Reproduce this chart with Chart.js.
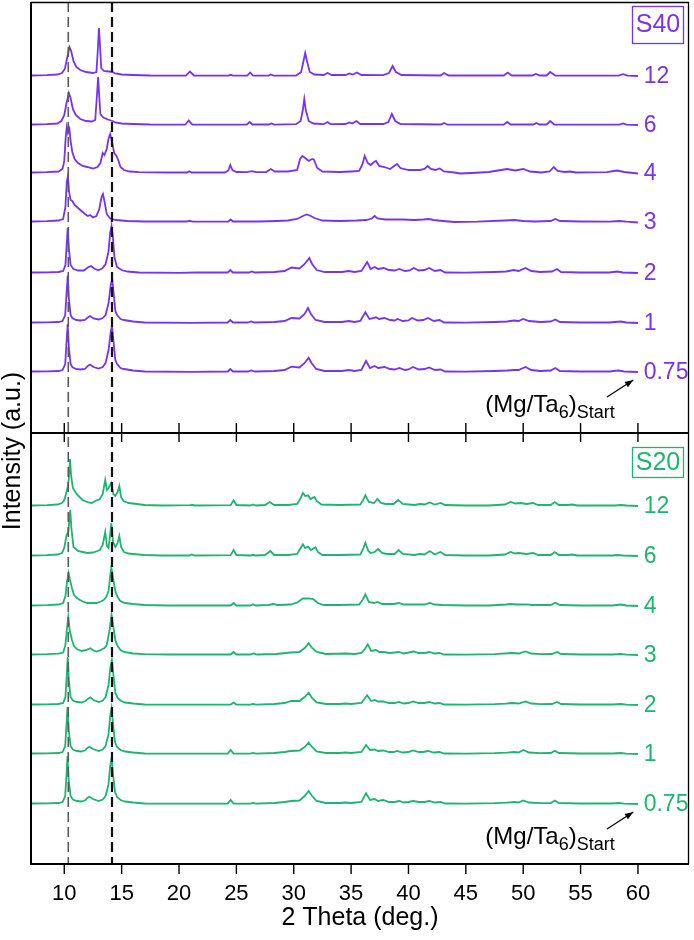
<!DOCTYPE html>
<html>
<head>
<meta charset="utf-8">
<title>XRD S40 / S20</title>
<script src="https://cdn.jsdelivr.net/npm/chart.js@4/dist/chart.umd.min.js"></script>
<style>
  body { margin: 0; background: #fff; }
  #wrap { width: 694px; height: 940px; position: relative; }
</style>
</head>
<body>
<div id="wrap"><canvas id="xrd"></canvas></div>
<script>
// sample labels, top to bottom in each panel
const samples = ['12', '6', '4', '3', '2', '1', '0.75'];
const xTicks = [10, 15, 20, 25, 30, 35, 40, 45, 50, 55, 60];
const refLines = [10.35, 14.16];

// vertical stacking offsets (a.u.)
const s40Offsets = [788, 739, 691, 642, 591, 541, 492];
const s20Offsets = [358, 308, 258, 209, 159, 110, 60];
const panelSplit = 431;

// S40 patterns: 2theta, intensity above own baseline
const s40_12 = [7.0,0.5, 8.5,0.8, 9.4,1.5, 9.8,3, 10.05,7, 10.25,18, 10.45,29, 10.6,25, 10.8,15, 11.05,9, 11.4,6, 11.9,4, 12.5,3, 12.8,4, 12.92,25, 13.02,48, 13.12,30, 13.22,8, 13.45,5, 13.9,4.5, 14.2,4, 14.45,2.5, 15.0,1.5, 16.0,1, 17.5,0.5, 20.6,0.3, 20.95,4.5, 21.3,0.5, 24.3,0.3, 24.5,1.2, 24.7,0.3, 25.95,0.5, 26.2,3.5, 26.45,0.5, 27.8,0.3, 28.0,1.5, 28.25,0.3, 30.2,0.5, 30.65,4, 30.85,15, 31.0,23, 31.15,15, 31.4,4, 31.8,1.5, 32.6,1, 32.95,3, 33.3,1, 34.5,1, 34.85,2.5, 35.15,1.5, 35.5,3.5, 35.9,1, 37.8,0.8, 38.3,3, 38.62,10, 38.9,4, 39.4,1, 42.8,0.5, 43.1,3, 43.5,0.5, 48.3,0.5, 48.65,3.5, 49.0,0.5, 50.8,0.5, 51.1,2, 51.45,0.5, 52.05,0.5, 52.35,4, 52.8,0.5, 58.3,0.3, 58.7,1.8, 59.1,0.3, 60.0,0];
const s40_6 = [7.0,0.5, 8.5,0.8, 9.4,1.5, 9.75,4, 10.0,10, 10.2,22, 10.4,32, 10.55,27, 10.75,16, 11.0,10, 11.4,6, 11.9,4, 12.4,3.5, 12.7,5, 12.85,30, 12.95,48, 13.05,28, 13.15,11, 13.4,7.5, 13.8,5.5, 14.2,4, 14.45,2.5, 15.0,1.5, 16.0,1, 17.5,0.5, 20.55,0.3, 20.85,4.5, 21.15,0.5, 25.9,0.3, 26.15,3, 26.4,0.5, 27.85,0.5, 28.05,1.5, 28.3,0.3, 30.2,0.8, 30.6,4, 30.78,14, 30.92,26, 31.05,15, 31.3,4, 31.7,1.5, 32.6,0.8, 32.95,3, 33.2,0.8, 34.5,1, 34.85,2.5, 35.1,1.5, 35.45,4, 35.8,1, 37.8,1, 38.25,3, 38.55,11, 38.85,4, 39.3,1, 42.85,0.5, 43.1,2, 43.4,0.3, 48.3,0.3, 48.6,3, 48.9,0.5, 50.9,0.5, 51.15,2, 51.4,0.5, 52.05,0.5, 52.35,4, 52.7,0.5, 58.4,0.3, 58.7,1.5, 59.0,0.3, 60.0,0];
const s40_4 = [7.0,0.5, 8.5,0.8, 9.5,1.5, 9.85,4, 10.0,12, 10.12,35, 10.22,46, 10.32,40, 10.45,44, 10.55,32, 10.7,21, 10.9,14, 11.2,10, 11.6,7, 12.0,6, 12.5,4.5, 12.9,6, 13.15,10, 13.35,20, 13.5,18, 13.7,24, 13.85,34, 14.0,39, 14.15,32, 14.35,20, 14.55,17, 14.7,13, 14.9,6, 15.2,3, 15.7,1.5, 16.5,0.8, 19.0,0.5, 20.7,0.5, 20.9,1.8, 21.1,0.5, 24.0,0.5, 24.3,2.5, 24.47,8, 24.65,3, 25.0,1, 25.9,0.8, 26.35,1.8, 26.7,0.8, 27.6,1, 28.0,4, 28.35,1.5, 29.5,1.5, 30.3,3, 30.55,14, 30.75,17, 31.0,15, 31.3,12, 31.6,14, 31.75,13.5, 32.05,5, 32.5,1.5, 34.0,1, 35.0,1.5, 35.7,2, 36.0,9, 36.18,17, 36.45,10, 36.7,8, 37.0,11, 37.17,12, 37.45,7, 37.9,6, 38.4,4, 39.0,9, 39.3,5, 40.0,3, 41.0,3, 41.4,4, 41.67,7, 41.95,4, 42.35,3, 42.72,4.5, 43.1,1.5, 44.0,0.5, 44.5,-0.5, 45.5,0, 47.0,1, 47.8,2.5, 48.6,4, 49.3,2.5, 50.0,4, 50.6,1.5, 51.1,1, 51.6,0.5, 52.3,1.5, 52.66,6, 53.0,2, 53.6,1, 54.1,1.5, 54.6,0.5, 57.3,0.8, 57.9,2, 58.2,2.5, 58.8,1, 60.0,-0.5];
const s40_3 = [7.0,0.5, 8.5,0.8, 9.5,1.5, 9.9,3, 10.1,15, 10.22,40, 10.32,46, 10.42,30, 10.55,22, 10.7,21, 10.9,17, 11.2,14, 11.5,11, 11.8,8, 12.05,6, 12.25,7, 12.5,4.5, 12.8,6, 13.05,13, 13.25,25, 13.37,28, 13.5,21, 13.7,8, 14.0,3.5, 14.5,2, 15.5,1, 17.0,0.5, 20.7,0.5, 20.9,1.2, 21.2,0.3, 24.3,0.5, 24.5,2.5, 24.7,0.5, 27.0,0.5, 28.5,1, 29.5,1.5, 30.3,3, 30.8,6, 31.1,7.5, 31.4,6.5, 31.8,4, 32.5,1.5, 34.0,1, 35.5,1.5, 36.3,2, 36.8,3.5, 37.05,6, 37.3,3.5, 38.0,2.5, 39.5,2.5, 40.5,2, 41.3,2.5, 41.76,3, 42.2,2, 43.0,1, 44.0,0, 46.0,0.3, 48.4,1.5, 49.2,2, 50.0,1, 51.0,0.5, 52.4,1, 52.8,3, 53.2,1, 55.0,0.5, 57.5,0.3, 58.4,1, 59.0,0.3, 60.0,-0.5];
const s40_2 = [7.0,0.5, 8.5,0.6, 9.5,1, 9.9,2, 10.1,8, 10.22,30, 10.3,45, 10.4,25, 10.55,8, 10.8,4, 11.2,2.5, 11.7,2.5, 12.05,5.5, 12.33,7, 12.6,4.5, 12.95,2.7, 13.3,4.5, 13.6,9, 13.85,21, 14.0,40, 14.12,47, 14.22,38, 14.38,15, 14.6,6, 15.0,3, 15.5,1.5, 16.5,0.5, 20.0,0.2, 21.5,0.5, 24.25,0.5, 24.47,3, 24.7,0.5, 26.1,0.5, 26.35,1.5, 26.6,0.5, 28.3,1, 29.2,2, 29.8,5.5, 30.5,4.5, 30.95,9, 31.36,15, 31.6,9, 32.0,3, 32.7,1, 34.2,1, 34.8,2, 35.3,1, 35.9,2, 36.4,11, 36.7,4, 37.05,6, 37.35,4, 37.84,5, 38.3,3, 38.8,2.5, 39.2,4, 39.7,2, 40.1,2.5, 40.45,5, 40.9,2.5, 41.4,3, 41.8,5, 42.3,2, 42.78,3, 43.2,0.5, 45.0,0.3, 47.5,1, 48.5,1.5, 49.17,3, 49.6,2, 50.2,5, 50.7,2, 51.5,1, 52.5,1.5, 52.95,4, 53.3,1, 55.0,0.5, 57.5,0.5, 58.2,1.5, 58.7,0.5, 60.0,0];
const s40_1 = [7.0,0.5, 8.5,0.6, 9.5,1, 9.85,2, 10.08,8, 10.2,30, 10.3,47.5, 10.4,25, 10.55,8, 10.7,5, 11.0,3, 11.4,2.5, 11.8,3, 12.05,5.5, 12.25,7, 12.55,4.5, 13.0,3.5, 13.35,5, 13.6,8, 13.86,20, 14.05,38, 14.18,44, 14.3,30, 14.45,12, 14.6,8, 14.9,4, 15.2,3, 16.0,1.5, 17.0,0.5, 21.0,0.2, 24.25,0.5, 24.47,3, 24.7,0.5, 26.0,0.5, 26.3,1.5, 26.6,0.5, 28.3,1, 29.2,2, 29.8,5, 30.5,4.5, 30.95,9, 31.24,15, 31.5,9, 31.9,3, 32.7,1, 34.2,1, 34.8,2, 35.3,1, 35.8,2, 36.24,10.7, 36.6,4, 37.17,5.7, 37.45,4, 37.9,5, 38.4,3, 38.8,2.5, 39.05,4, 39.5,2, 40.0,2.5, 40.3,5, 40.8,2.5, 41.3,3, 41.7,5, 42.2,2, 42.7,3, 43.1,0.5, 45.0,0.3, 47.5,1, 48.6,1.5, 49.2,2.5, 49.6,2, 50.0,4, 50.5,2, 51.5,1, 52.4,1.5, 52.8,3.5, 53.2,1, 55.0,0.5, 57.5,0.5, 58.5,1.5, 59.0,0.5, 60.0,0];
const s40_075 = [7.0,0.5, 8.5,0.6, 9.5,1, 9.85,2, 10.08,8, 10.2,30, 10.3,48, 10.4,25, 10.55,8, 10.7,5, 11.0,3, 11.4,2.5, 11.8,3, 12.05,6, 12.25,7.5, 12.55,5, 13.0,3.5, 13.35,5, 13.6,9, 13.86,22, 14.05,40, 14.16,46, 14.28,32, 14.45,12, 14.6,8, 14.9,4, 15.2,3, 16.0,1.5, 17.0,0.5, 21.0,0.2, 24.25,0.5, 24.47,3, 24.7,0.5, 26.0,0.5, 26.3,1.5, 26.6,0.5, 28.3,1, 29.2,2, 29.8,5.3, 30.5,4.5, 30.95,9, 31.3,14.3, 31.55,9, 31.95,3, 32.7,1, 34.2,1, 34.8,2, 35.3,1, 35.9,2, 36.3,11, 36.65,4, 37.05,6, 37.35,4, 37.9,5, 38.4,3, 38.8,2.5, 39.2,4, 39.7,2, 40.0,2.5, 40.4,5, 40.9,2.5, 41.4,3, 41.8,4.5, 42.3,2, 42.8,2.5, 43.2,0.5, 45.0,0.3, 47.5,1, 48.6,1.5, 49.2,2, 49.6,2, 50.2,5, 50.7,2, 51.5,1, 52.4,1.5, 52.8,4, 53.2,1, 55.0,0.5, 57.5,0.5, 58.3,1.5, 58.8,0.5, 60.0,0];

// S20 patterns
const s20_12 = [7.0,0.5, 8.5,0.8, 9.4,1.5, 9.8,3, 10.0,6, 10.15,12, 10.3,19, 10.4,28, 10.5,47, 10.6,30, 10.75,18, 11.1,11.5, 11.6,6, 12.1,3.5, 12.4,3, 12.7,5, 13.1,7, 13.35,12, 13.57,26, 13.72,16, 13.86,18, 14.08,23, 14.28,12, 14.45,10, 14.65,14, 14.8,20, 14.95,9, 15.17,5, 15.6,3, 16.0,2.5, 17.0,1, 18.5,0.5, 21.0,0.8, 21.1,1.2, 21.4,0.5, 24.5,0.8, 24.76,5.7, 25.0,1, 26.2,0.5, 26.45,1.5, 26.7,0.5, 27.5,1, 27.9,4, 28.3,1, 29.5,1, 30.3,2, 30.6,8, 30.8,13, 31.0,10, 31.24,10.7, 31.45,7, 31.8,9, 32.0,5, 32.4,1.5, 34.0,1, 35.8,1.5, 36.05,6, 36.24,10.7, 36.55,4, 37.0,3, 37.3,7, 37.6,3, 38.0,2, 38.7,2, 39.1,6, 39.5,2, 40.5,1, 41.0,2, 41.4,1.5, 41.85,3.5, 42.3,1.5, 42.8,3, 43.2,1, 45.0,0.5, 47.0,0.5, 48.4,1.5, 48.9,4, 49.3,2.5, 49.76,3, 50.3,2, 50.86,3, 51.3,1, 52.4,1, 52.75,4, 53.1,1, 53.9,1, 54.26,1.5, 54.7,0.5, 58.0,0.5, 58.5,1, 59.0,0.5, 60.0,0];
const s20_6 = [7.0,0.5, 8.5,0.8, 9.4,1.5, 9.8,3, 10.0,8, 10.2,21, 10.35,24, 10.44,35, 10.52,46, 10.62,28, 10.8,9, 11.2,5, 11.6,4, 12.0,3, 12.5,3.5, 12.9,5, 13.1,6, 13.35,11, 13.57,24, 13.72,10, 13.86,8, 14.0,22, 14.1,33, 14.25,14, 14.45,9, 14.65,13, 14.8,20, 14.95,9, 15.2,4, 15.6,2.5, 16.0,2, 17.0,1, 18.5,0.5, 20.9,0.5, 21.1,1.5, 21.4,0.5, 24.5,0.8, 24.76,6, 25.0,1, 26.2,0.5, 26.45,1, 26.7,0.5, 27.5,1, 27.96,5, 28.3,1, 29.5,1, 30.3,2, 30.6,8, 30.8,11.7, 31.0,8, 31.24,9.3, 31.5,6, 31.9,8.7, 32.1,4, 32.5,1, 34.0,1, 35.8,1.5, 36.05,7, 36.24,13.3, 36.5,5, 36.7,3, 37.05,4, 37.35,7, 37.7,3, 38.1,2, 38.8,2, 39.15,6, 39.5,2, 40.5,1, 41.0,2, 41.4,1.5, 41.85,5, 42.3,1.5, 42.78,4, 43.2,1, 45.0,0.5, 47.0,0.5, 48.4,1.5, 48.9,4, 49.3,2.5, 49.6,3, 50.3,2, 50.86,3, 51.3,1, 52.4,1, 52.75,4, 53.1,1, 53.9,1, 54.26,1.5, 54.7,0.5, 57.8,0.5, 58.2,1, 58.7,0.5, 60.0,0];
const s20_4 = [7.0,0.5, 8.5,0.8, 9.5,1.5, 9.9,3, 10.1,10, 10.25,25, 10.38,33, 10.5,26, 10.67,17.7, 10.85,11, 11.1,8, 11.5,5, 12.0,3, 12.8,3, 13.2,4.5, 13.43,6, 13.65,9, 13.86,15, 14.0,30, 14.1,38.7, 14.22,30, 14.45,15, 14.65,9, 14.88,5, 15.3,3, 16.0,2, 17.0,1, 19.0,0.5, 24.5,0.5, 24.76,3, 25.0,0.5, 26.2,0.5, 26.45,1.5, 26.7,0.5, 27.8,1, 28.2,2, 28.6,1, 29.7,1.5, 30.3,3.5, 30.8,7.5, 31.3,7.7, 31.7,7, 32.1,3, 32.6,1, 34.0,1, 35.7,1.5, 36.0,6, 36.24,11.7, 36.55,4, 37.0,3, 37.3,4, 37.7,2, 38.7,2, 39.15,3, 39.6,1.5, 40.5,1.5, 41.4,1.5, 41.85,3, 42.3,1.5, 43.0,1, 45.0,0.5, 47.0,0.5, 48.5,1.5, 48.9,2, 49.4,1.5, 50.3,1.7, 50.8,1, 52.4,1, 52.8,3.3, 53.2,1, 55.0,0.5, 57.8,0.5, 58.5,1.5, 59.0,0.5, 60.0,0];
const s20_3 = [7.0,0.5, 8.5,0.8, 9.5,1.3, 9.9,2.5, 10.1,10, 10.25,28, 10.35,38, 10.47,25, 10.67,15, 10.85,9, 11.1,6, 11.5,4, 11.95,5, 12.27,6.7, 12.55,4.5, 12.8,3.5, 13.2,5, 13.5,7, 13.7,10, 13.95,25, 14.12,40, 14.28,28, 14.45,15, 14.6,10, 14.9,5, 15.2,3, 16.0,1.5, 17.0,0.8, 19.0,0.5, 24.5,0.5, 24.76,3, 25.0,0.5, 26.2,0.5, 26.5,1.5, 26.8,0.5, 28.5,1, 29.7,2.5, 30.5,3, 30.95,7, 31.3,11.7, 31.6,7, 32.0,3, 32.8,1, 34.5,1.5, 35.3,1, 35.9,2, 36.2,6, 36.45,10.7, 36.75,4, 37.17,5, 37.45,3, 37.8,3, 38.4,2, 39.15,3, 39.6,1.5, 40.45,3.5, 40.9,2, 41.4,2, 41.8,3, 42.3,1.5, 42.7,2, 43.1,0.5, 45.0,0.3, 47.5,0.8, 49.0,2, 49.6,1.5, 50.2,3.5, 50.7,1.5, 51.5,0.8, 52.5,1, 52.95,3, 53.3,1, 55.0,0.5, 57.8,0.5, 58.5,1, 59.0,0.3, 60.0,0];
const s20_2 = [7.0,0.5, 8.5,0.6, 9.5,1, 9.9,2, 10.1,8, 10.22,30, 10.3,48, 10.4,25, 10.55,8, 10.75,4.5, 11.1,3, 11.5,2.5, 11.85,4, 12.05,6, 12.27,7.7, 12.55,5, 13.0,3, 13.35,4.5, 13.6,8, 13.86,20, 14.02,38, 14.15,45, 14.28,30, 14.45,12, 14.65,7, 14.95,4, 15.3,2.5, 16.0,1.5, 17.0,0.5, 21.0,0.3, 24.5,0.5, 24.76,2.5, 25.0,0.5, 26.2,0.3, 26.45,1, 26.7,0.3, 28.3,1, 29.2,2, 29.8,4, 30.5,4, 30.95,8, 31.3,12.3, 31.6,7, 32.0,2.5, 32.8,1, 34.0,1, 34.5,1.5, 35.0,1, 35.9,2, 36.4,9.7, 36.75,4, 37.05,5, 37.35,3.5, 37.8,3.5, 38.3,2, 38.8,2, 39.15,3, 39.6,1.5, 40.0,2, 40.4,3.5, 40.9,2, 41.4,2, 41.8,3, 42.3,1.5, 42.7,2, 43.1,0.5, 45.0,0.3, 47.5,0.8, 48.5,1.3, 49.0,2, 49.6,1.5, 50.2,3.5, 50.7,1.5, 51.5,0.8, 52.5,1, 52.95,3, 53.3,1, 55.0,0.5, 57.8,0.5, 58.5,1, 59.0,0.3, 60.0,0];
const s20_1 = [7.0,0.5, 8.5,0.6, 9.5,1, 9.85,2, 10.08,8, 10.2,30, 10.28,47, 10.38,25, 10.55,8, 10.75,4.5, 11.1,3, 11.5,2.5, 11.85,4, 12.0,6, 12.2,7.3, 12.5,5, 13.0,3, 13.35,4.5, 13.6,8, 13.86,20, 14.0,38, 14.12,46, 14.25,30, 14.42,12, 14.6,7, 14.9,4, 15.3,2.5, 16.0,1.5, 17.0,0.5, 21.0,0.3, 24.25,0.5, 24.5,4, 24.75,0.5, 26.2,0.3, 26.45,1, 26.7,0.3, 28.3,1, 29.2,2, 29.7,3, 30.5,3.5, 30.95,7, 31.3,11.3, 31.6,7, 32.0,2.5, 32.8,1, 34.0,1, 34.5,1.5, 35.0,1, 35.9,2, 36.3,9, 36.65,4, 37.05,4.5, 37.35,3, 37.8,3.5, 38.3,2, 38.7,2, 39.0,3, 39.5,1.5, 40.0,2, 40.4,3.5, 40.9,2, 41.3,2, 41.7,3, 42.2,1.5, 42.7,2, 43.1,0.5, 45.0,0.3, 47.5,0.8, 48.6,1.3, 49.2,2, 49.6,1.5, 50.0,4, 50.5,1.5, 51.5,0.8, 52.4,1, 52.75,3.3, 53.1,1, 55.0,0.5, 57.8,0.5, 58.5,1, 59.0,0.3, 60.0,0];
const s20_075 = [7.0,0.5, 8.5,0.6, 9.5,1, 9.85,2, 10.08,8, 10.2,30, 10.28,48, 10.38,25, 10.55,8, 10.75,4.5, 11.1,3, 11.5,2.5, 11.85,4, 12.0,6, 12.2,7.3, 12.5,5, 13.0,3, 13.35,4.5, 13.6,8, 13.86,20, 14.0,38, 14.12,46, 14.25,30, 14.42,12, 14.6,7, 14.9,4, 15.3,2.5, 16.0,1.5, 17.0,0.5, 21.0,0.3, 24.25,0.5, 24.5,4, 24.75,0.5, 26.2,0.3, 26.45,1, 26.7,0.3, 28.3,1, 29.2,2, 29.8,3, 30.5,3.5, 30.95,8, 31.3,13, 31.6,8, 32.0,3, 32.8,1, 34.0,1, 34.5,1.5, 35.0,1, 35.9,2, 36.3,10.7, 36.65,4, 37.05,5, 37.35,3, 37.8,4, 38.3,2, 38.8,2, 39.2,3, 39.6,1.5, 40.0,2, 40.4,3, 40.9,2, 41.4,2, 41.8,3, 42.3,1.5, 42.8,2, 43.2,0.5, 45.0,0.3, 47.5,0.8, 48.6,1.3, 49.2,2, 49.6,1.5, 50.0,3.5, 50.5,1.5, 51.5,0.8, 52.4,1, 52.75,3.5, 53.1,1, 55.0,0.5, 57.8,0.5, 58.3,1, 58.8,0.3, 60.0,0];

const s40Traces = [s40_12, s40_6, s40_4, s40_3, s40_2, s40_1, s40_075];
const s20Traces = [s20_12, s20_6, s20_4, s20_3, s20_2, s20_1, s20_075];

const PURPLE = '#7634f2';
const GREEN = '#1fb46f';
const FONT = '"Liberation Sans", Arial, sans-serif';

function toPoints(flat, offset) {
  const pts = [];
  for (let i = 0; i < flat.length; i += 2) {
    pts.push({ x: flat[i], y: flat[i + 1] + offset });
  }
  return pts;
}

const datasets = [];
s40Traces.forEach((t, i) => {
  datasets.push({ label: 'S40 ' + samples[i], data: toPoints(t, s40Offsets[i]), borderColor: PURPLE });
});
s20Traces.forEach((t, i) => {
  datasets.push({ label: 'S20 ' + samples[i], data: toPoints(t, s20Offsets[i]), borderColor: GREEN });
});

const decorations = {
  id: 'decorations',
  afterDatasetsDraw(chart) {
    const ctx = chart.ctx;
    const area = chart.chartArea;
    const xs = chart.scales.x;
    const ys = chart.scales.y;
    ctx.save();

    // reference lines
    refLines.forEach((v, i) => {
      const px = xs.getPixelForValue(v);
      ctx.beginPath();
      ctx.setLineDash([10, 5]);
      ctx.lineWidth = i === 0 ? 1.6 : 2.2;
      ctx.strokeStyle = i === 0 ? '#5a5a5a' : '#111';
      ctx.moveTo(px, area.top);
      ctx.lineTo(px, area.bottom);
      ctx.stroke();
    });
    ctx.setLineDash([]);

    // frame
    ctx.strokeStyle = '#000';
    ctx.lineWidth = 1.3;
    ctx.beginPath();
    ctx.moveTo(area.left, area.top + 0.5);
    ctx.lineTo(area.right, area.top + 0.5);
    ctx.moveTo(area.right - 0.5, area.top);
    ctx.lineTo(area.right - 0.5, area.bottom);
    ctx.stroke();
    ctx.lineWidth = 2;
    ctx.beginPath();
    ctx.moveTo(area.left, area.top);
    ctx.lineTo(area.left, area.bottom);
    ctx.lineTo(area.right, area.bottom);
    ctx.stroke();

    // panel divider with crossing ticks
    const midY = ys.getPixelForValue(panelSplit);
    ctx.beginPath();
    ctx.moveTo(area.left, midY);
    ctx.lineTo(area.right, midY);
    ctx.stroke();
    ctx.lineWidth = 1.4;
    ctx.beginPath();
    xTicks.forEach(v => {
      const px = xs.getPixelForValue(v);
      ctx.moveTo(px, midY - 10);
      ctx.lineTo(px, midY + 9);
      ctx.moveTo(px, area.bottom);
      ctx.lineTo(px, area.bottom + 10);
    });
    ctx.stroke();

    // tick labels
    ctx.fillStyle = '#000';
    ctx.font = '22px ' + FONT;
    ctx.textAlign = 'center';
    ctx.textBaseline = 'alphabetic';
    xTicks.forEach(v => {
      ctx.fillText(String(v), xs.getPixelForValue(v), area.bottom + 36);
    });

    // axis titles
    ctx.font = '25px ' + FONT;
    ctx.fillText('2 Theta (deg.)', (area.left + area.right) / 2, area.bottom + 61);
    ctx.save();
    ctx.translate(13, 451);
    ctx.rotate(-Math.PI / 2);
    ctx.textBaseline = 'middle';
    ctx.fillText('Intensity (a.u.)', 0, 0);
    ctx.restore();

    // sample labels
    ctx.font = '23px ' + FONT;
    ctx.textAlign = 'left';
    ctx.textBaseline = 'middle';
    const labelX = xs.getPixelForValue(60.5);
    samples.forEach((s, i) => {
      ctx.fillStyle = PURPLE;
      ctx.fillText(s, labelX, ys.getPixelForValue(s40Offsets[i]) + 1);
      ctx.fillStyle = GREEN;
      ctx.fillText(s, labelX, ys.getPixelForValue(s20Offsets[i]) + 1);
    });

    // series boxes
    const boxes = [
      { text: 'S40', color: PURPLE, top: area.top + 4, h: 37 },
      { text: 'S20', color: GREEN, top: midY + 14, h: 30 }
    ];
    ctx.font = '25px ' + FONT;
    ctx.textAlign = 'center';
    boxes.forEach(b => {
      const left = area.right - 57;
      ctx.strokeStyle = b.color;
      ctx.lineWidth = 1.3;
      ctx.strokeRect(left + 0.5, b.top + 0.5, 51, b.h);
      ctx.fillStyle = b.color;
      ctx.fillText(b.text, left + 26, b.top + b.h / 2 + 1);
    });

    // (Mg/Ta6)Start annotation with arrow, one per panel
    const bases = [s40Offsets[6], s20Offsets[6]];
    bases.forEach(base => {
      const y0 = ys.getPixelForValue(base) + 40;
      let x = xs.getPixelForValue(46.7);
      ctx.fillStyle = '#000';
      ctx.textAlign = 'left';
      ctx.textBaseline = 'alphabetic';
      ctx.font = '24px ' + FONT;
      ctx.fillText('(Mg/Ta', x, y0);
      x += ctx.measureText('(Mg/Ta').width;
      ctx.font = '18px ' + FONT;
      ctx.fillText('6', x, y0 + 6);
      x += ctx.measureText('6').width;
      ctx.font = '24px ' + FONT;
      ctx.fillText(')', x, y0);
      x += ctx.measureText(')').width;
      ctx.font = '18px ' + FONT;
      ctx.fillText('Start', x, y0 + 6);

      const ax0 = xs.getPixelForValue(57.3), ay0 = ys.getPixelForValue(base - 25);
      const ax1 = xs.getPixelForValue(59.6), ay1 = ys.getPixelForValue(base - 8);
      ctx.strokeStyle = '#000';
      ctx.lineWidth = 1.2;
      ctx.beginPath();
      ctx.moveTo(ax0, ay0);
      ctx.lineTo(ax1, ay1);
      ctx.stroke();
      const ang = Math.atan2(ay1 - ay0, ax1 - ax0);
      ctx.beginPath();
      ctx.moveTo(ax1, ay1);
      ctx.lineTo(ax1 - 9 * Math.cos(ang - 0.35), ay1 - 9 * Math.sin(ang - 0.35));
      ctx.lineTo(ax1 - 9 * Math.cos(ang + 0.35), ay1 - 9 * Math.sin(ang + 0.35));
      ctx.closePath();
      ctx.fill();
    });

    ctx.restore();
  }
};

new Chart(document.getElementById('xrd'), {
  type: 'line',
  data: { datasets: datasets },
  options: {
    responsive: true,
    maintainAspectRatio: false,
    animation: false,
    layout: { padding: { left: 31, top: 2, right: 5, bottom: 76 } },
    elements: {
      line: { borderWidth: 1.8, tension: 0, fill: false },
      point: { radius: 0 }
    },
    scales: {
      x: { type: 'linear', min: 7.1, max: 64.45, display: false },
      y: { type: 'linear', min: 0, max: 862, display: false }
    },
    plugins: {
      legend: { display: false },
      tooltip: { enabled: false }
    }
  },
  plugins: [decorations]
});
</script>
</body>
</html>
